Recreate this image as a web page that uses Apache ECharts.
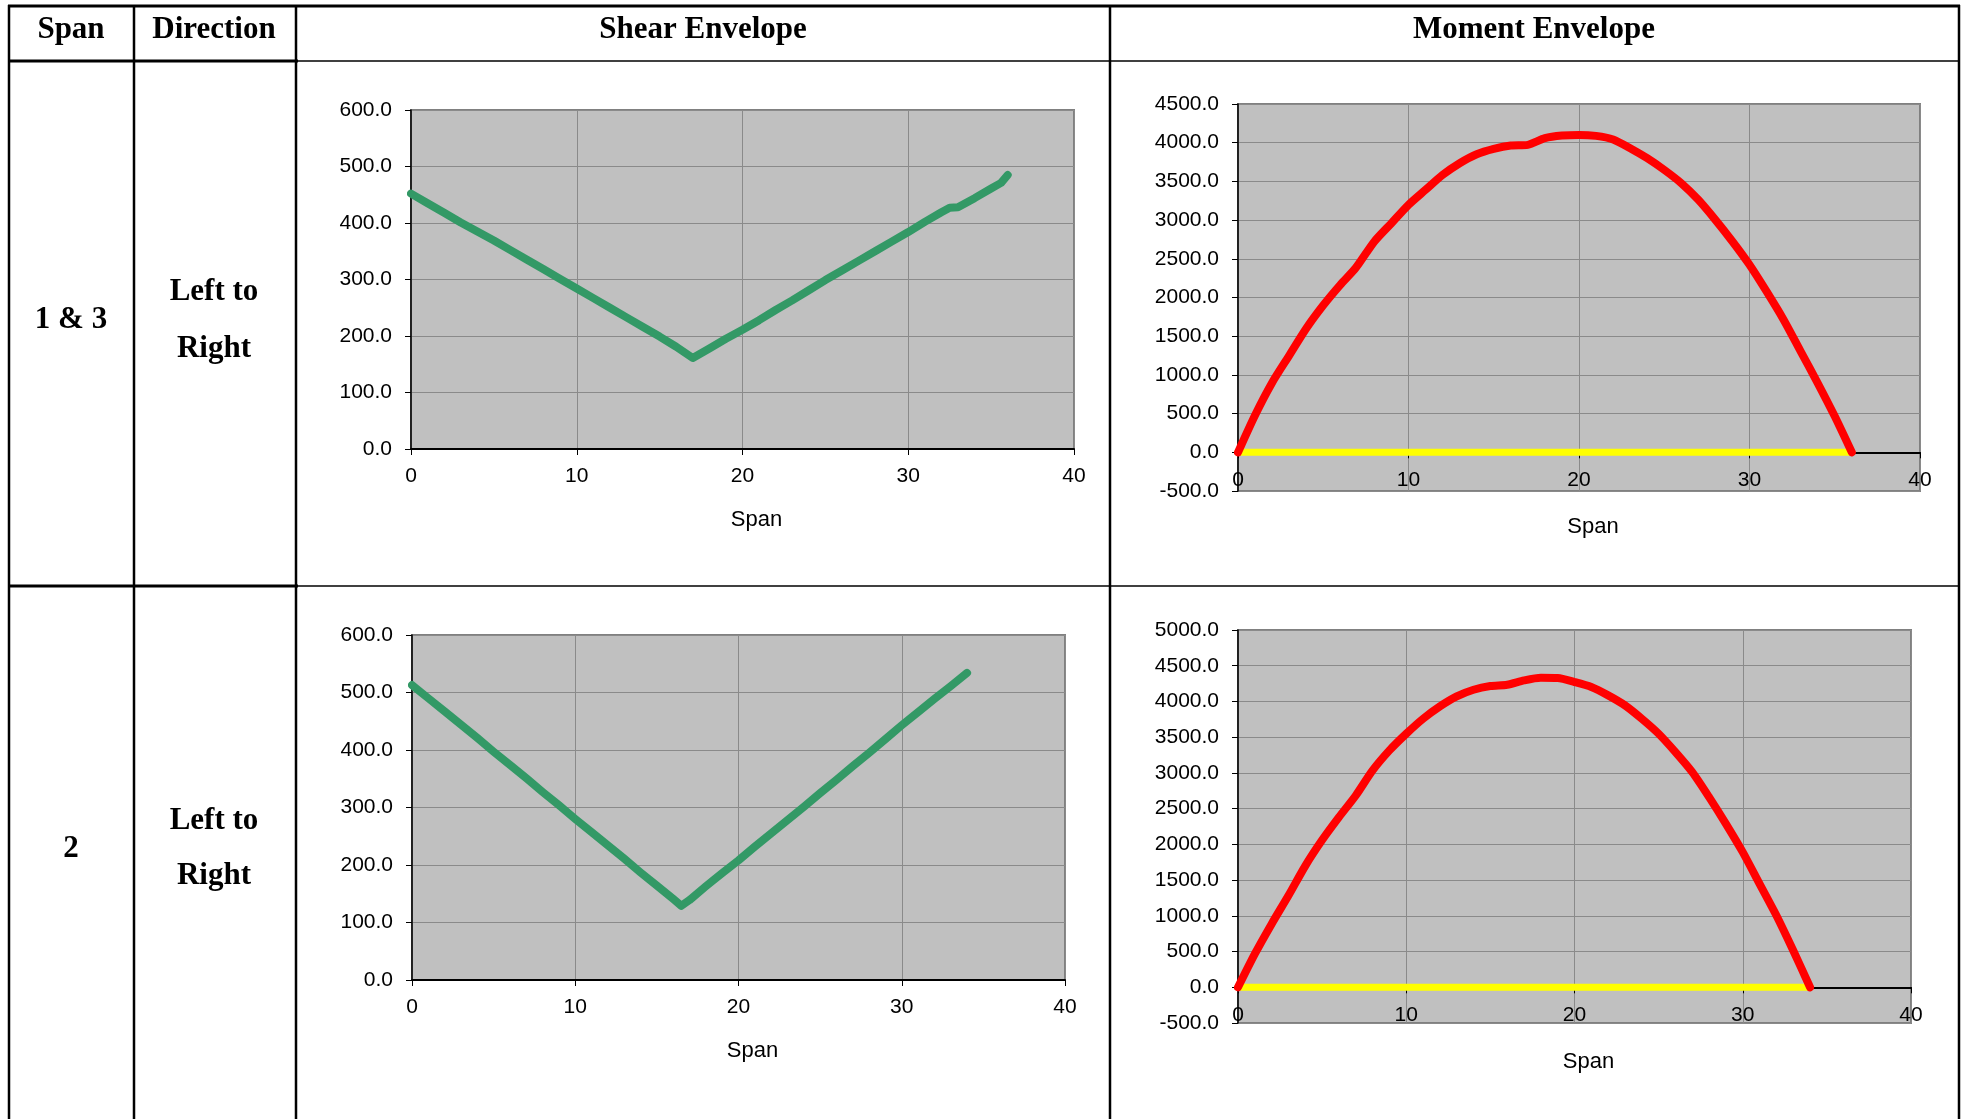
<!DOCTYPE html>
<html>
<head>
<meta charset="utf-8">
<script src="https://cdn.jsdelivr.net/npm/echarts@6/dist/echarts.min.js"></script>
<style>
  html, body { margin: 0; padding: 0; background: #fff; }
  #main { width: 1965px; height: 1119px; }
</style>
</head>
<body>
<div id="main"></div>
<script>
// span positions (ft) and envelope values
const shearX1 = [0,1,2,3,4,5,6,7,8,9,10,11,12,13,14,15,16,17,18,19,20,21,22,23,24,25,26,27,28,29,30,31,32,32.5,33,34,35,35.6,36];
const shearY1 = [452,435,418,401,385,369,352,335,318,301,284,267,250,233,216,199,181,161,178,195,211,228,246,263,281,299,316,333,350,367,384,402,419,427,428,444,461,471,485];

const momentX1 = [0,1,2,3,4,5,6,6.9,8,9,10,11,12,13,14,15,16,17,18,19,20,21,22,23,24,25,26,27,28,29,30,31,32,33,34,35,36];
const momentY1 = [0,480,900,1250,1600,1900,2164,2380,2724,2960,3197,3391,3584,3735,3851,3920,3963,3972,4058,4092,4101,4088,4042,3929,3800,3649,3477,3262,3003,2724,2423,2078,1713,1304,895,465,0];

const shearX2 = [0,1,2,3,4,5,6,7,8,9,10,11,12,13,14,15,16,16.5,17,18,19,20,21,22,23,24,25,26,27,28,29,30,31,32,33,34];
const shearY2 = [513,490,467,444,421,397,374,351,327,304,280,257,234,211,187,164,141,129,139,163,186,208,232,255,278,301,325,348,372,395,419,443,466,489,511,534];

const momentX2 = [0,1,2,3,4,5,6,7,8,9,10,11,12,13,14,15,16,17,18,19,20,21,22,23,24,25,26,27,28,29,30,31,32,33,34];
const momentY2 = [0,467,887,1284,1700,2060,2381,2684,3035,3315,3548,3758,3931,4071,4164,4216,4234,4295,4332,4328,4272,4202,4085,3945,3758,3548,3291,3011,2661,2287,1891,1447,1004,514,0];

const zeroX1 = [0,36];
const zeroX2 = [0,34];

// table texts
const headers = ['Span','Direction','Shear Envelope','Moment Envelope'];
const spanLabels = ['1 & 3','2'];
const dirLabels = ['Left to','Right'];

function pairs(xs, ys) {
  return xs.map((x, i) => [x, ys[i]]);
}
function zeros(xs) {
  return xs.map(x => [x, 0]);
}

const labelFont = {color:'#000', fontFamily:'Liberation Sans, Arial', fontSize:21};

//offset: moment charts put the x axis on the zero line
function makeX(gridIndex, nameGap, offset) {
  return {
    gridIndex: gridIndex, type:'value', min:0, max:40, interval:10,
    offset: offset,
    name:'Span', nameLocation:'middle', nameGap: nameGap,
    nameTextStyle:{color:'#000', fontFamily:'Liberation Sans, Arial', fontSize:22, padding:[0,0,0,28]},
    axisLine:{onZero:false, lineStyle:{color:'#000', width:2}},
    axisTick:{show:true, length:6, lineStyle:{color:'#000'}},
    axisLabel: Object.assign({margin:17}, labelFont),
    splitLine:{show:true, lineStyle:{color:'#8a8a8a', width:1}}
  };
}
function makeY(gridIndex, min, max, interval) {
  return {
    gridIndex: gridIndex, type:'value', min:min, max:max, interval:interval,
    axisLine:{show:true, lineStyle:{color:'#000', width:1.5}},
    axisTick:{show:true, length:6, lineStyle:{color:'#000'}},
    axisLabel: Object.assign({margin:19, formatter: v => v.toFixed(1)}, labelFont),
    splitLine:{show:true, lineStyle:{color:'#8a8a8a', width:1}}
  };
}
function gridBox(left, top, width, height) {
  return {left:left, top:top, width:width, height:height, show:true,
    backgroundColor:'#c0c0c0', borderColor:'#808080', borderWidth:2};
}
function lineSeries(idx, data, color, width, smooth) {
  return {type:'line', xAxisIndex:idx, yAxisIndex:idx, data:data, showSymbol:false, smooth:smooth,
    lineStyle:{color:color, width:width, cap:'round', join:'round'}, silent:true};
}

// table lines and texts
const gfx = [];
function hline(x1, x2, y, w) {
  gfx.push({type:'line', shape:{x1:x1, y1:y, x2:x2, y2:y}, style:{stroke:'#000', lineWidth:w}, z:100});
}
function vline(x, y1, y2, w) {
  gfx.push({type:'line', shape:{x1:x, y1:y1, x2:x, y2:y2}, style:{stroke:'#000', lineWidth:w}, z:100});
}
function txt(t, x, y) {
  gfx.push({type:'text', x:x, y:y, style:{text:t, fill:'#000', font:'bold 31px "Liberation Serif", "Times New Roman", serif', align:'center', verticalAlign:'middle'}, z:100});
}
hline(8, 1960, 6, 3);
hline(8, 298, 61, 3);
hline(298, 1960, 61, 1.5);
hline(8, 298, 586, 3);
hline(298, 1960, 586, 1.5);
[9, 134, 296, 1110, 1959].forEach(x => vline(x, 5, 1119, 2.5));
txt(headers[0], 71, 30);
txt(headers[1], 214, 30);
txt(headers[2], 703, 30);
txt(headers[3], 1534, 30);
txt(spanLabels[0], 71, 320);
txt(dirLabels[0], 214, 292);
txt(dirLabels[1], 214, 349);
txt(spanLabels[1], 71, 849);
txt(dirLabels[0], 214, 821);
txt(dirLabels[1], 214, 876);

const chart = echarts.init(document.getElementById('main'));
chart.setOption({
  backgroundColor:'#fff',
  animation:false,
  grid:[
    gridBox(411, 110, 663, 339),
    gridBox(1238, 104, 682, 387),
    gridBox(412, 635, 653, 345),
    gridBox(1238, 630, 673, 393)
  ],
  xAxis:[makeX(0, 60, 0), makeX(1, 64, -38.7), makeX(2, 60, 0), makeX(3, 64, -35.7)],
  yAxis:[
    makeY(0, 0, 600, 100),
    makeY(1, -500, 4500, 500),
    makeY(2, 0, 600, 100),
    makeY(3, -500, 5000, 500)
  ],
  series:[
    lineSeries(0, pairs(shearX1, shearY1), '#339966', 8, false),
    lineSeries(1, zeros(zeroX1), '#ffff00', 7, false),
    lineSeries(1, pairs(momentX1, momentY1), '#ff0000', 8, 0.25),
    lineSeries(2, pairs(shearX2, shearY2), '#339966', 8, false),
    lineSeries(3, zeros(zeroX2), '#ffff00', 7, false),
    lineSeries(3, pairs(momentX2, momentY2), '#ff0000', 8, 0.25)
  ],
  graphic: gfx
});
</script>
</body>
</html>
